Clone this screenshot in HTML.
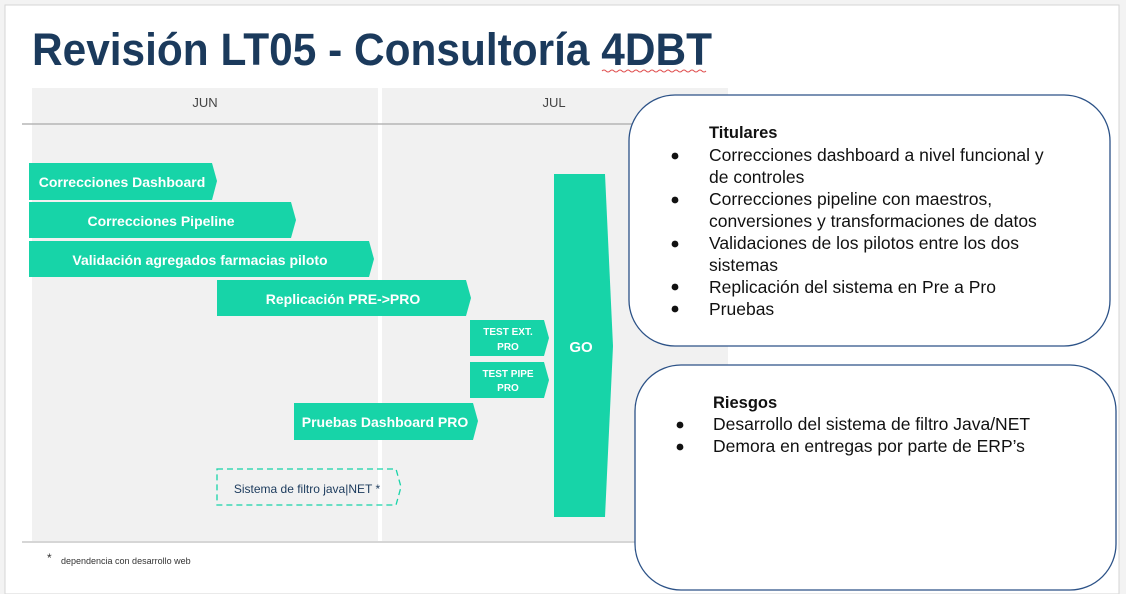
<!DOCTYPE html>
<html><head><meta charset="utf-8"><style>
html,body{margin:0;padding:0;background:#fff;}
svg{display:block;}
</style></head><body>
<svg width="1126" height="594" viewBox="0 0 1126 594" xmlns="http://www.w3.org/2000/svg">
<rect x="0" y="0" width="1126" height="594" fill="#f3f3f3"/>
<rect x="5" y="5" width="1114" height="589" fill="#ffffff" stroke="#d6d6d6"/>
<text x="32" y="65" font-family="Liberation Sans Narrow, Liberation Sans, sans-serif" font-weight="bold" font-size="45" fill="#1b3a5c" textLength="680" lengthAdjust="spacingAndGlyphs">Revisión LT05 -  Consultoría 4DBT</text>
<path d="M602 71 q2 -2 4 0 t4 0 t4 0 t4 0 t4 0 t4 0 t4 0 t4 0 t4 0 t4 0 t4 0 t4 0 t4 0 t4 0 t4 0 t4 0 t4 0 t4 0 t4 0 t4 0 t4 0 t4 0 t4 0 t4 0 t4 0 t4 0" stroke="#e05050" stroke-width="1" fill="none"/>
<rect x="32" y="88" width="346" height="453" fill="#f1f1f1"/>
<rect x="382" y="88" width="346" height="453" fill="#f1f1f1"/>
<line x1="22" y1="124" x2="640" y2="124" stroke="#b5b5b5" stroke-width="1.5"/>
<line x1="22" y1="542" x2="640" y2="542" stroke="#c8c8c8" stroke-width="1.5"/>
<text x="205" y="107" font-family="Liberation Sans, sans-serif" font-size="13" fill="#444" text-anchor="middle">JUN</text>
<text x="554" y="107" font-family="Liberation Sans, sans-serif" font-size="13" fill="#444" text-anchor="middle">JUL</text>
<g fill="#17d4a8">
<polygon points="29,163 212,163 217,181 212,200 29,200"/>
<polygon points="29,202 291,202 296,220 291,238 29,238"/>
<polygon points="29,241 369,241 374,259 369,277 29,277"/>
<polygon points="217,280 466,280 471,298 466,316 217,316"/>
<polygon points="470,320 544,320 549,338 544,356 470,356"/>
<polygon points="470,362 544,362 549,380 544,398 470,398"/>
<polygon points="294,403 473,403 478,421 473,440 294,440"/>
<polygon points="554,174 605,174 613,346 605,517 554,517"/>
</g>
<polygon points="217,469 396,469 401,487 396,505 217,505" fill="none" stroke="#17d4a8" stroke-width="1.3" stroke-dasharray="6,4"/>
<g font-family="Liberation Sans, sans-serif" font-weight="bold" fill="#fff" text-anchor="middle">
<text x="122" y="187" font-size="14">Correcciones Dashboard</text>
<text x="161" y="226" font-size="14">Correcciones Pipeline</text>
<text x="200" y="265" font-size="14">Validación agregados farmacias piloto</text>
<text x="343" y="304" font-size="14">Replicación PRE-&gt;PRO</text>
<text x="508" y="335" font-size="10">TEST EXT.</text>
<text x="508" y="350" font-size="10">PRO</text>
<text x="508" y="377" font-size="10">TEST PIPE</text>
<text x="508" y="391" font-size="10">PRO</text>
<text x="385" y="427" font-size="14">Pruebas Dashboard PRO</text>
<text x="581" y="352" font-size="15">GO</text>
</g>
<text x="307" y="493" font-family="Liberation Sans, sans-serif" font-size="12" fill="#1b3a5c" text-anchor="middle">Sistema de filtro java|NET *</text>
<text x="47" y="562" font-family="Liberation Sans, sans-serif" font-size="12" fill="#333">*</text>
<text x="61" y="564" font-family="Liberation Sans, sans-serif" font-size="9" fill="#333">dependencia con desarrollo web</text>
<rect x="629" y="95" width="481" height="251" rx="46" ry="46" fill="#fff" stroke="#2c5287" stroke-width="1.3"/>
<rect x="635" y="365" width="481" height="225" rx="46" ry="46" fill="#fff" stroke="#2c5287" stroke-width="1.3"/>
<g font-family="Liberation Sans, sans-serif" font-size="17.5" fill="#111">
<text x="709" y="138" font-weight="bold" font-size="16.5">Titulares</text>
<text x="709" y="161">Correcciones dashboard a nivel funcional y</text>
<text x="709" y="183">de controles</text>
<text x="709" y="205">Correcciones pipeline con maestros,</text>
<text x="709" y="227">conversiones y transformaciones de datos</text>
<text x="709" y="249">Validaciones de los pilotos entre los dos</text>
<text x="709" y="271">sistemas</text>
<text x="709" y="293">Replicación del sistema en Pre a Pro</text>
<text x="709" y="315">Pruebas</text>
<text x="713" y="408" font-weight="bold" font-size="16.5">Riesgos</text>
<text x="713" y="430">Desarrollo del sistema de filtro Java/NET</text>
<text x="713" y="452">Demora en entregas por parte de ERP’s</text>
</g>
<g fill="#111">
<circle cx="675" cy="156" r="3.4"/><circle cx="675" cy="200" r="3.4"/><circle cx="675" cy="244" r="3.4"/><circle cx="675" cy="287" r="3.4"/><circle cx="675" cy="309" r="3.4"/>
<circle cx="680" cy="425" r="3.4"/><circle cx="680" cy="447" r="3.4"/>
</g>
</svg>
</body></html>
